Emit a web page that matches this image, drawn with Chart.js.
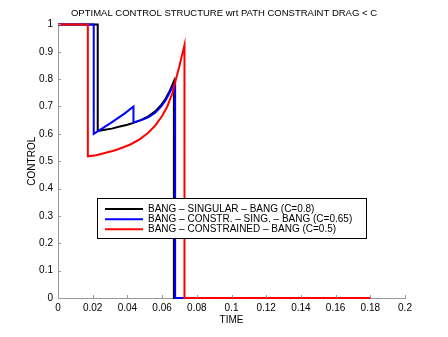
<!DOCTYPE html>
<html><head><meta charset="utf-8">
<script src="https://cdn.jsdelivr.net/npm/chart.js@4/dist/chart.umd.min.js"></script>
<style>html,body{margin:0;padding:0;background:#fff}#wrap{width:448px;height:337px}</style>
</head><body><div id="wrap"><canvas id="c" width="448" height="337"></canvas></div>
<script>
// ---------- data ----------
const titleText = 'OPTIMAL CONTROL STRUCTURE wrt PATH CONSTRAINT DRAG < C';
const xLabel = 'TIME';
const yLabel = 'CONTROL';
const xTicks = [0, 0.02, 0.04, 0.06, 0.08, 0.1, 0.12, 0.14, 0.16, 0.18, 0.2];
const yTicks = [0, 0.1, 0.2, 0.3, 0.4, 0.5, 0.6, 0.7, 0.8, 0.9, 1];
const seriesNames = [
  'BANG \u2013 SINGULAR \u2013 BANG (C=0.8)',
  'BANG \u2013 CONSTR. \u2013 SING. \u2013 BANG (C=0.65)',
  'BANG \u2013 CONSTRAINED \u2013 BANG (C=0.5)'
];
const seriesColors = ['#000000', '#0000ff', '#ff0000'];

// C = 0.8 : bang - singular - bang
const singTime    = [0, 0.0229, 0.0229, 0.027, 0.031, 0.035, 0.040, 0.0435, 0.048, 0.052, 0.056, 0.0595, 0.062, 0.0643, 0.0668, 0.0668, 0.073];
const singControl = [1, 1,      0.610,  0.615, 0.619, 0.626, 0.633, 0.640,  0.651, 0.664, 0.682, 0.706,  0.728, 0.756,  0.792,  0,      0];

// C = 0.65 : bang - constrained - singular - bang
const constrSingTime    = [0, 0.0206, 0.0206, 0.0307, 0.0383, 0.0435, 0.0435, 0.048, 0.052, 0.056, 0.0595, 0.062, 0.0643, 0.0675, 0.0675, 0.0733];
const constrSingControl = [1, 1,      0.600,  0.641,  0.674,  0.700,  0.642,  0.650, 0.660, 0.677, 0.700,  0.722, 0.750,  0.787,  0,      0];

// C = 0.5 : bang - constrained - bang
const constrTime    = [0, 0.0172, 0.0172, 0.022, 0.027, 0.032, 0.037, 0.042, 0.047, 0.052, 0.056, 0.060, 0.063, 0.066, 0.068, 0.070, 0.0729, 0.0729, 0.18];
const constrControl = [1, 1,      0.518,  0.522, 0.530, 0.538, 0.549, 0.562, 0.580, 0.604, 0.630, 0.665, 0.700, 0.750, 0.800, 0.848, 0.925,  0,      0];

// ---------- chart ----------
const FONT = "'Liberation Sans', Arial, Helvetica, sans-serif";
Chart.defaults.font.family = FONT;
Chart.defaults.color = '#000';

const pts = (xs, ys) => xs.map((x, i) => ({x, y: ys[i]}));
const allSeries = [[singTime, singControl], [constrSingTime, constrSingControl], [constrTime, constrControl]];

const datasets = allSeries.map((s, i) => ({
  label: seriesNames[i],
  data: pts(s[0], s[1]),
  borderColor: seriesColors[i],
  backgroundColor: seriesColors[i],
  borderWidth: 2,
  pointRadius: 0,
  tension: 0,
  fill: false,
  clip: false,
  order: 2 - i
}));

const AXIS_GRAY = '#999';

const innerTicks = {
  id: 'innerTicks',
  afterDraw(chart) {
    const {ctx, chartArea: a, scales: {x, y}} = chart;
    ctx.save();
    ctx.strokeStyle = AXIS_GRAY;
    ctx.lineWidth = 1;
    ctx.beginPath();
    xTicks.forEach(v => {
      const px = Math.round(x.getPixelForValue(v)) + 0.5;
      ctx.moveTo(px, a.bottom); ctx.lineTo(px, a.bottom - 3);
    });
    yTicks.forEach(v => {
      const py = Math.round(y.getPixelForValue(v)) + 0.5;
      ctx.moveTo(a.left, py); ctx.lineTo(a.left + 3, py);
    });
    ctx.stroke();
    ctx.restore();
  }
};

const boxLegend = {
  id: 'boxLegend',
  afterDatasetsDraw(chart) {
    const {ctx} = chart;
    const L = {left: 97.5, top: 198.5, right: 366.5, bottom: 238.5, x0: 105, x1: 143, tx: 148};
    const rows = [209, 219.3, 229.3];
    ctx.save();
    ctx.fillStyle = '#fff';
    ctx.fillRect(L.left, L.top, L.right - L.left, L.bottom - L.top);
    ctx.strokeStyle = '#000';
    ctx.lineWidth = 1;
    ctx.strokeRect(L.left, L.top, L.right - L.left, L.bottom - L.top);
    ctx.font = '10px ' + FONT;
    ctx.textBaseline = 'middle';
    ctx.textAlign = 'left';
    chart.data.datasets.forEach((ds, i) => {
      const yy = rows[i];
      ctx.strokeStyle = ds.borderColor;
      ctx.lineWidth = 2;
      ctx.beginPath(); ctx.moveTo(L.x0, yy); ctx.lineTo(L.x1, yy); ctx.stroke();
      ctx.fillStyle = '#000';
      ctx.fillText(ds.label, L.tx, yy);
    });
    ctx.restore();
  }
};

new Chart(document.getElementById('c'), {
  type: 'line',
  data: {datasets},
  options: {
    responsive: false,
    animation: false,
    devicePixelRatio: 1,
    layout: {padding: {top: 0, right: 0, bottom: 0, left: 0}},
    plugins: {
      legend: {display: false},
      tooltip: {enabled: false},
      title: {
        display: true,
        text: titleText,
        color: '#000',
        font: {size: 9.5, weight: 'normal', family: FONT},
        padding: {top: 8, bottom: 5}
      }
    },
    scales: {
      x: {
        type: 'linear',
        min: 0, max: 0.2,
        afterBuildTicks: s => { s.ticks = xTicks.map(v => ({value: v})); },
        afterFit: s => { s.height = 39; },
        grid: {display: true, drawOnChartArea: false, drawTicks: false},
        border: {display: true, color: AXIS_GRAY, width: 1},
        ticks: {
          padding: 4, maxRotation: 0, autoSkip: false,
          font: {size: 10},
          callback: v => String(+v.toFixed(2))
        },
        title: {display: true, text: xLabel, font: {size: 10}, padding: {top: 0, bottom: 11}}
      },
      y: {
        type: 'linear',
        min: 0, max: 1,
        afterBuildTicks: s => { s.ticks = yTicks.map(v => ({value: v})); },
        afterFit: s => { s.width = 58; },
        grid: {display: true, drawOnChartArea: false, drawTicks: false},
        border: {display: true, color: AXIS_GRAY, width: 1},
        ticks: {
          padding: 5, autoSkip: false,
          font: {size: 10},
          callback: v => String(+v.toFixed(1))
        },
        title: {display: true, text: yLabel, font: {size: 10}, padding: {top: 26, bottom: 0}}
      },
      yRight: {
        type: 'linear',
        position: 'right',
        display: true,
        afterFit: s => { s.width = 43; },
        grid: {display: false, drawTicks: false},
        border: {display: false},
        ticks: {display: false}
      }
    }
  },
  plugins: [innerTicks, boxLegend]
});
</script>
</body></html>
